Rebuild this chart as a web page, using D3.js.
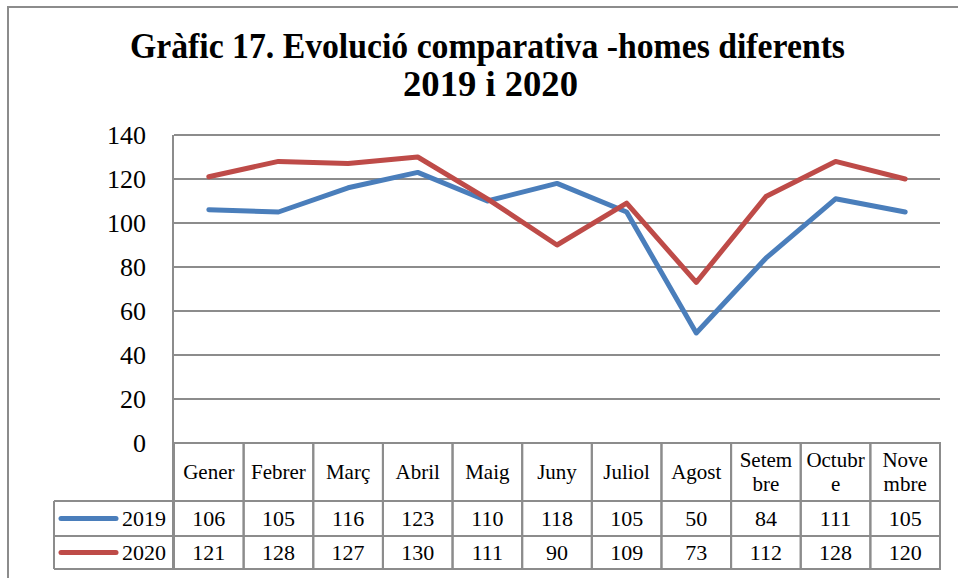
<!DOCTYPE html>
<html>
<head>
<meta charset="utf-8">
<script src="https://cdn.jsdelivr.net/npm/d3@7/dist/d3.min.js"></script>
<style>
body{margin:0;background:#fff;}
.grid line{stroke:#8c8c8c;stroke-width:2;}
.cell{stroke:#8c8c8c;stroke-width:2;fill:none;}
</style>
</head>
<body>
<svg></svg>
<script>
// data
var months = ["Gener","Febrer","Març","Abril","Maig","Juny","Juliol","Agost","Setembre","Octubre","Novembre"];
var monthLines = [["Gener"],["Febrer"],["Març"],["Abril"],["Maig"],["Juny"],["Juliol"],["Agost"],["Setem","bre"],["Octubr","e"],["Nove","mbre"]];
var values2019 = [106,105,116,123,110,118,105,50,84,111,105];
var values2020 = [121,128,127,130,111,90,109,73,112,128,120];
var seriesNames = ["2019","2020"];
var seriesColors = ["#4a7ebb","#be4b48"];
var yTicks = [0,20,40,60,80,100,120,140];

var serif = "'Liberation Serif', 'DejaVu Serif', serif";
var width = 958, height = 578;
var svg = d3.select("svg").attr("width", width).attr("height", height)
	.attr("font-family", serif);

// outer frame
svg.append("path")
	.attr("d","M8,"+height+" V7 H"+width)
	.attr("fill","none")
	.attr("stroke","#8c8c8c")
	.attr("stroke-width",2);

// title
svg.append("text")
	.attr("x",130).attr("y",58)
	.attr("textLength",715).attr("lengthAdjust","spacingAndGlyphs")
	.attr("font-family",serif)
	.style("font-size","35px").style("font-weight","bold")
	.text("Gràfic 17. Evolució comparativa -homes diferents");
svg.append("text")
	.attr("x",403).attr("y",96)
	.attr("textLength",175).attr("lengthAdjust","spacingAndGlyphs")
	.attr("font-family",serif)
	.style("font-size","35px").style("font-weight","bold")
	.text("2019 i 2020");

var pLeft = 174, pRight = 940, pTop = 135, pBottom = 443;

var x = d3.scaleBand().domain(months).range([pLeft,pRight]);
var y = d3.scaleLinear().domain([0,140]).range([pBottom,pTop]);

// gridlines
var grid = svg.append("g").attr("class","grid");
grid.selectAll("line").data(yTicks).enter().append("line")
	.attr("x1",pLeft).attr("x2",pRight)
	.attr("y1",function(d){return y(d);})
	.attr("y2",function(d){return y(d);});

// y axis
var yAxis = d3.axisLeft(y).tickValues(yTicks).tickSize(0).tickPadding(28);
var ya = svg.append("g").attr("transform","translate("+pLeft+",0)").call(yAxis);
ya.attr("font-family",serif).attr("font-size",26);
ya.select(".domain").remove();
ya.selectAll("text").attr("fill","#000").attr("dy","0.32em");
svg.append("line").attr("x1",pLeft-1).attr("x2",pLeft-1).attr("y1",pTop).attr("y2",569)
	.attr("stroke","#8c8c8c").attr("stroke-width",2);

// lines
var line = d3.line()
	.x(function(d,i){return x(months[i]) + x.bandwidth()/2;})
	.y(function(d){return y(d);});
[values2019, values2020].forEach(function(vals,k){
	svg.append("path")
		.datum(vals)
		.attr("d",line)
		.attr("fill","none")
		.attr("stroke",seriesColors[k])
		.attr("stroke-width",5)
		.attr("stroke-linejoin","round")
		.attr("stroke-linecap","round");
});

// data table
var rowTops = [443,501,536,569];
var legendLeft = 54;
var t = svg.append("g").attr("font-family",serif);
months.forEach(function(m,i){
	t.append("rect").attr("class","cell")
		.attr("x",x(m)).attr("y",rowTops[0])
		.attr("width",x.bandwidth()).attr("height",rowTops[3]-rowTops[0]);
	var lines = monthLines[i];
	var cx = x(m)+x.bandwidth()/2;
	var mid = (rowTops[0]+rowTops[1])/2;
	lines.forEach(function(s,j){
		t.append("text")
			.attr("x",cx)
			.attr("y",mid + (j-(lines.length-1)/2)*24)
			.attr("dy","0.35em")
			.attr("text-anchor","middle")
			.attr("font-size",21)
			.text(s);
	});
});
[1,2,3].forEach(function(r){
	t.append("line").attr("class","cell")
		.attr("x1",legendLeft).attr("x2",pRight)
		.attr("y1",rowTops[r]).attr("y2",rowTops[r]);
});
t.append("line").attr("class","cell")
	.attr("x1",legendLeft).attr("x2",legendLeft)
	.attr("y1",rowTops[1]).attr("y2",rowTops[3]);

[values2019, values2020].forEach(function(vals,k){
	var mid = (rowTops[k+1]+rowTops[k+2])/2;
	t.append("line")
		.attr("x1",61).attr("x2",116)
		.attr("y1",mid).attr("y2",mid)
		.attr("stroke",seriesColors[k]).attr("stroke-width",5)
		.attr("stroke-linecap","round");
	t.append("text")
		.attr("x",166).attr("y",mid).attr("dy","0.35em")
		.attr("text-anchor","end")
		.attr("font-size",22)
		.text(seriesNames[k]);
	vals.forEach(function(v,i){
		t.append("text")
			.attr("x",x(months[i])+x.bandwidth()/2)
			.attr("y",mid).attr("dy","0.35em")
			.attr("text-anchor","middle")
			.attr("font-size",22)
			.text(v);
	});
});
</script>
</body>
</html>
